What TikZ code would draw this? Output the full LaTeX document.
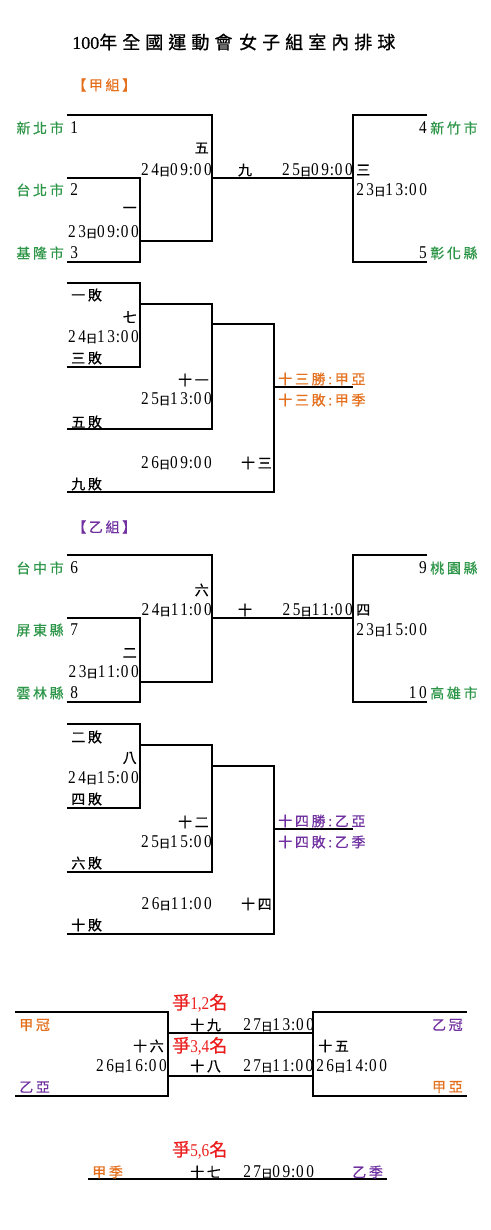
\documentclass[tikz,border=0pt]{standalone}
\usepackage{fontspec}
\setmainfont{Liberation Serif}[FakeStretch=0.85, LetterSpace=14]
\newfontfamily\rdf{Liberation Serif}[FakeStretch=0.85]
\newfontfamily\cj{Noto Sans CJK TC}[LetterSpace=19, FakeBold=0.6]
\newfontfamily\cjt{Noto Sans CJK TC}[LetterSpace=28, FakeBold=0.8]
\newfontfamily\ttl{Liberation Serif}[FakeBold=0.6]
\definecolor{tgreen}{RGB}{46,150,72}
\definecolor{torange}{RGB}{228,112,30}
\definecolor{tpurple}{RGB}{112,48,160}
\definecolor{tred}{RGB}{235,30,30}
\newcommand\tmx[3]{#1{\cj\fontsize{8.5pt}{10pt}\selectfont 日}#2\kern0.6pt:\kern0.6pt#3}
\tikzset{
  ln/.style={line width=1pt},
  tm/.style={inner sep=0pt, font=\fontsize{13.5pt}{15pt}\selectfont},
  cn/.style={inner sep=0pt, font=\cj\fontsize{10.5pt}{12pt}\selectfont},
  team/.style={cn, text=tgreen},
  oa/.style={cn, text=torange},
  pb/.style={cn, text=tpurple},
  rd/.style={inner sep=0pt, text=tred, font=\rdf\fontsize{13.5pt}{15pt}\selectfont},
  ttlst/.style={inner sep=0pt, font=\fontsize{13.5pt}{16pt}\selectfont}
}
\begin{document}
\begin{tikzpicture}[x=0.75pt,y=-0.75pt]
\useasboundingbox (0,0) rectangle (490,1230);
\node[ttlst, anchor=west] (title) at (72,42) {{\ttl 100}{\cjt 年全國運動會\hspace{5pt}女子組室內排球}};
% ---------- Group A ----------
\node[oa, anchor=west] (gA) at (72,85) {【甲組】};
\draw[ln] (67,115) -| (212,241) -- (140,241);
\draw[ln] (67,178) -| (140,262) -- (67,262);
\draw[ln] (212,178) -- (353,178);
\draw[ln] (427,115) -| (353,262) -- (427,262);
\node[team, anchor=east] (a1t) at (64,128) {新北市};
\node[tm, anchor=west] (a1) at (70,128) {1};
\node[team, anchor=east] (a2t) at (64,190) {台北市};
\node[tm, anchor=west] (a2) at (70,190) {2};
\node[team, anchor=east] (a3t) at (64,253) {基隆市};
\node[tm, anchor=west] (a3) at (70,253) {3};
\node[tm, anchor=east] (a4) at (427,128) {4};
\node[team, anchor=west] (a4t) at (430,128) {新竹市};
\node[tm, anchor=east] (a5) at (427,253) {5};
\node[team, anchor=west] (a5t) at (430,253) {彰化縣};
\node[cn, anchor=east] (g5) at (209,148) {五};
\node[tm, anchor=east] (g5t) at (212,170) {\tmx{24}{09}{00}};
\node[cn] (g9) at (245,170) {九};
\node[tm, anchor=east] (g9t) at (353,170) {\tmx{25}{09}{00}};
\node[cn, anchor=west] (g3) at (356,170) {三};
\node[tm, anchor=west] (g3t) at (356,190) {\tmx{23}{13}{00}};
\node[cn, anchor=east] (g1) at (137,210) {一};
\node[tm, anchor=east] (g1t) at (139,232) {\tmx{23}{09}{00}};
% losers A
\draw[ln] (67,283) -| (140,367) -- (67,367);
\draw[ln] (140,304) -| (212,429) -- (67,429);
\draw[ln] (212,324) -| (274,492) -- (67,492);
\draw[ln] (274,387) -- (353,387);
\node[cn, anchor=west] (l1) at (71,295) {一敗};
\node[cn, anchor=east] (g7) at (137,317) {七};
\node[tm, anchor=east] (g7t) at (139,337) {\tmx{24}{13}{00}};
\node[cn, anchor=west] (l3) at (71,358) {三敗};
\node[cn, anchor=east] (g11) at (209,380) {十一};
\node[tm, anchor=east] (g11t) at (212,399) {\tmx{25}{13}{00}};
\node[cn, anchor=west] (l5) at (71,422) {五敗};
\node[tm, anchor=east] (g13t) at (212,463) {\tmx{26}{09}{00}};
\node[cn, anchor=east] (g13) at (272,463) {十三};
\node[cn, anchor=west] (l9) at (71,484) {九敗};
\node[oa, anchor=west] (r13w) at (278,379) {十三勝:甲亞};
\node[oa, anchor=west] (r13l) at (278,400) {十三敗:甲季};
% ---------- Group B ----------
\node[pb, anchor=west] (gB) at (72,527) {【乙組】};
\draw[ln] (67,555) -| (212,682) -- (140,682);
\draw[ln] (67,618) -| (140,702) -- (67,702);
\draw[ln] (212,618) -- (353,618);
\draw[ln] (427,555) -| (353,702) -- (427,702);
\node[team, anchor=east] (b6t) at (64,568) {台中市};
\node[tm, anchor=west] (b6) at (70,568) {6};
\node[team, anchor=east] (b7t) at (64,630) {屏東縣};
\node[tm, anchor=west] (b7) at (70,630) {7};
\node[team, anchor=east] (b8t) at (64,693) {雲林縣};
\node[tm, anchor=west] (b8) at (70,693) {8};
\node[tm, anchor=east] (b9) at (427,568) {9};
\node[team, anchor=west] (b9t) at (430,568) {桃園縣};
\node[tm, anchor=east] (b10) at (427,693) {10};
\node[team, anchor=west] (b10t) at (430,693) {高雄市};
\node[cn, anchor=east] (g6) at (209,590) {六};
\node[tm, anchor=east] (g6t) at (212,610) {\tmx{24}{11}{00}};
\node[cn] (g10) at (245,610) {十};
\node[tm, anchor=east] (g10t) at (353,610) {\tmx{25}{11}{00}};
\node[cn, anchor=west] (g4) at (356,610) {四};
\node[tm, anchor=west] (g4t) at (356,630) {\tmx{23}{15}{00}};
\node[cn, anchor=east] (g2) at (137,653) {二};
\node[tm, anchor=east] (g2t) at (139,672) {\tmx{23}{11}{00}};
% losers B
\draw[ln] (67,724) -| (140,808) -- (67,808);
\draw[ln] (140,745) -| (212,872) -- (67,872);
\draw[ln] (212,766) -| (274,934) -- (67,934);
\draw[ln] (274,829) -- (353,829);
\node[cn, anchor=west] (l2) at (71,737) {二敗};
\node[cn, anchor=east] (g8) at (137,758) {八};
\node[tm, anchor=east] (g8t) at (139,778) {\tmx{24}{15}{00}};
\node[cn, anchor=west] (l4) at (71,799) {四敗};
\node[cn, anchor=east] (g12) at (209,822) {十二};
\node[tm, anchor=east] (g12t) at (212,842) {\tmx{25}{15}{00}};
\node[cn, anchor=west] (l6) at (71,863) {六敗};
\node[tm, anchor=east] (g14t) at (212,904) {\tmx{26}{11}{00}};
\node[cn, anchor=east] (g14) at (272,904) {十四};
\node[cn, anchor=west] (l10) at (71,925) {十敗};
\node[pb, anchor=west] (r14w) at (278,821) {十四勝:乙亞};
\node[pb, anchor=west] (r14l) at (278,842) {十四敗:乙季};
% ---------- Finals ----------
\draw[ln] (15,1012) -| (168,1096) -- (15,1096);
\draw[ln] (467,1012) -| (313,1096) -- (467,1096);
\draw[ln] (168,1033) -- (313,1033);
\draw[ln] (168,1076) -- (313,1076);
\draw[ln] (88,1179) -- (387,1179);
\node[rd, anchor=west] (p12) at (172,1003) {{\cj 爭}1,2{\cj 名}};
\node[rd, anchor=west] (p34) at (172,1046) {{\cj 爭}3,4{\cj 名}};
\node[rd, anchor=west] (p56) at (172,1150) {{\cj 爭}5,6{\cj 名}};
\node[oa, anchor=west] (aw) at (19,1025) {甲冠};
\node[pb, anchor=west] (bs) at (19,1087) {乙亞};
\node[pb, anchor=east] (bw) at (463,1025) {乙冠};
\node[oa, anchor=east] (as) at (463,1087) {甲亞};
\node[cn, anchor=east] (g16) at (164,1046) {十六};
\node[tm, anchor=east] (g16t) at (167,1066) {\tmx{26}{16}{00}};
\node[cn, anchor=west] (g19) at (190,1025) {十九};
\node[tm, anchor=west] (g19t) at (243,1025) {\tmx{27}{13}{00}};
\node[cn, anchor=west] (g18) at (190,1066) {十八};
\node[cn, anchor=west] (g15) at (318,1046) {十五};
\node[tm, anchor=west] (g15t) at (316,1066) {\tmx{26}{14}{00}};
\node[oa, anchor=west] (a3rd) at (92,1172) {甲季};
\node[cn, anchor=west] (g17) at (190,1172) {十七};
\node[pb, anchor=west] (b3rd) at (352,1172) {乙季};
\begin{scope}
\clip (200,1055) rectangle (313,1185);
\node[tm, anchor=west] (g18t) at (243,1066) {\tmx{27}{11}{00}};
\node[tm, anchor=west] (g17t) at (243,1172) {\tmx{27}{09}{00}};
\end{scope}
\end{tikzpicture}
\end{document}
